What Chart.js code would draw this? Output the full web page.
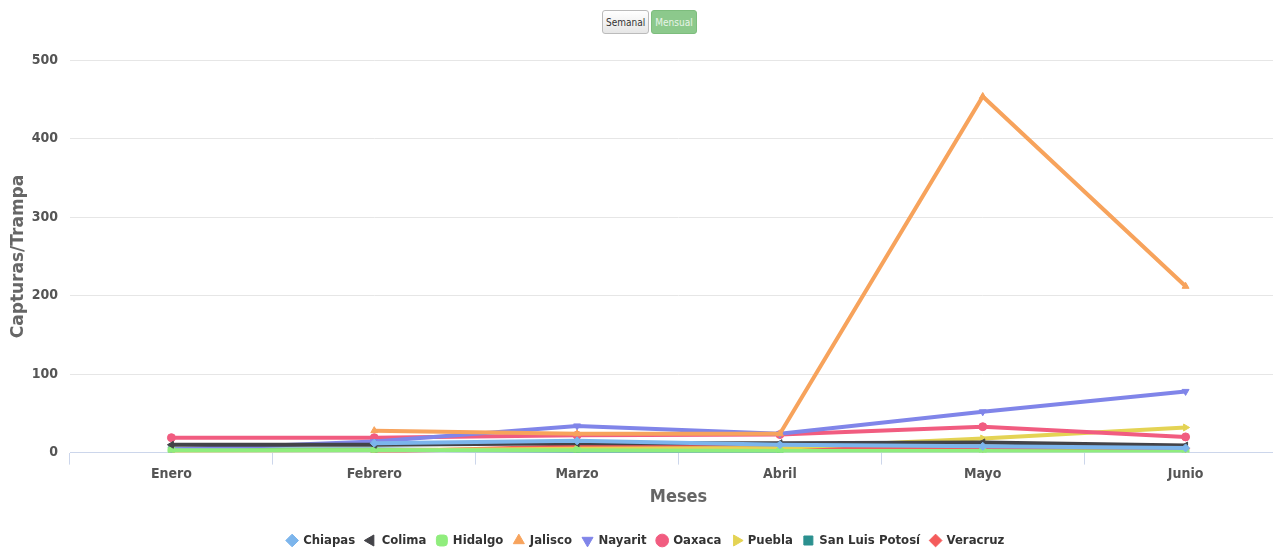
<!DOCTYPE html>
<html>
<head>
<meta charset="utf-8">
<script src="https://cdn.jsdelivr.net/npm/chart.js@4"></script>
<style>
  body { margin: 0; background: #fff; overflow: hidden; font-family: "DejaVu Sans Condensed", sans-serif; }
  .botones { position: absolute; top: 10px; left: 602px; }
  .botones button { font-family: inherit; font-size: 10px; height: 24px; padding: 0 3px; border-radius: 3px; margin-right: 2px; }
  .semanal { background: linear-gradient(#fff, #e6e6e6); border: 1px solid #bbb; color: #333; }
  .mensual { background: #8cc98c; border: 1px solid #7dbd7d; color: #e8f4e8; }
  .contenedor { position: absolute; top: 40px; left: 0; width: 1292px; height: 517px; }
</style>
</head>
<body>
<div class="botones"><button class="semanal">Semanal</button><button class="mensual">Mensual</button></div>
<div class="contenedor"><canvas id="grafica"></canvas></div>
<script>
// Meses y valores de capturas por trampa
const meses = ['Enero', 'Febrero', 'Marzo', 'Abril', 'Mayo', 'Junio'];

const chiapas   = [null, 12, 15, 10, 8, 6];
const colima    = [10, 10, 12, 12, 13, 9];
const hidalgo   = [3, 3, 3, 2, 2, 1];
const jalisco   = [null, 28, 24, 24, 454, 212];
const nayarit   = [4, 14, 34, 24, 52, 78];
const oaxaca    = [19, 19, 22, 23, 33, 20];
const puebla    = [2, 3, 5, 6, 18, 32];
const sanLuis   = [4, 4, 2, 1, null, null];
const veracruz  = [null, 1, 8, 7, 5, 5];

const ticksY = [0, 100, 200, 300, 400, 500];

// Cada estado con su color y marcador
const estados = [
  { nombre: 'Chiapas', datos: chiapas, color: '#7cb5ec', marca: 'rectRot', giro: 0 },
  { nombre: 'Colima', datos: colima, color: '#434348', marca: 'triangle', giro: 270 },
  { nombre: 'Hidalgo', datos: hidalgo, color: '#90ed7d', marca: 'rectRounded', giro: 0 },
  { nombre: 'Jalisco', datos: jalisco, color: '#f7a35c', marca: 'triangle', giro: 0 },
  { nombre: 'Nayarit', datos: nayarit, color: '#8085e9', marca: 'triangle', giro: 180 },
  { nombre: 'Oaxaca', datos: oaxaca, color: '#f15c80', marca: 'circle', giro: 0 },
  { nombre: 'Puebla', datos: puebla, color: '#e4d354', marca: 'triangle', giro: 90 },
  { nombre: 'San Luis Potosí', datos: sanLuis, color: '#2b908f', marca: 'rect', giro: 0 },
  { nombre: 'Veracruz', datos: veracruz, color: '#f45b5b', marca: 'rectRot', giro: 0 }
];

const fuente = '"DejaVu Sans Condensed", sans-serif';

new Chart(document.getElementById('grafica').getContext('2d'), {
  type: 'line',
  data: {
    labels: meses,
    datasets: estados.map(e => ({
      label: e.nombre,
      data: e.datos,
      borderColor: e.color,
      backgroundColor: e.color,
      borderWidth: 4,
      pointStyle: e.marca,
      pointRotation: e.giro,
      pointRadius: 4,
      pointBorderWidth: 1,
      tension: 0,
      spanGaps: false
    }))
  },
  options: {
    responsive: true,
    maintainAspectRatio: false,
    animation: false,
    layout: { padding: { top: 7, right: 0, bottom: 0, left: 0 } },
    scales: {
      x: {
        offset: true,
        grid: { display: true, drawOnChartArea: false, offset: true, color: '#ccd6eb', tickLength: 12 },
        border: { color: '#ccd6eb' },
        ticks: { color: '#555', font: { family: fuente, size: 14, weight: 'bold' }, padding: 1 },
        title: { display: true, text: 'Meses', color: '#666', font: { family: fuente, size: 18, weight: 'bold' }, padding: { top: 3, bottom: 15 } }
      },
      y: {
        min: 0,
        max: 500,
        afterBuildTicks: s => { s.ticks = ticksY.map(v => ({ value: v })); },
        afterFit: s => { s.width = 70; },
        grid: { color: '#e6e6e6', drawTicks: false },
        border: { display: false },
        ticks: { color: '#555', font: { family: fuente, size: 14, weight: 'bold' }, padding: 12 },
        title: { display: true, text: 'Capturas/Trampa', color: '#666', font: { family: '"DejaVu Sans", sans-serif', size: 17, weight: 'bold' }, padding: { top: 8, bottom: 0 } }
      }
    },
    plugins: {
      legend: {
        position: 'bottom',
        labels: {
          usePointStyle: true,
          boxWidth: 9,
          boxHeight: 9,
          padding: 11,
          color: '#333',
          font: { family: fuente, size: 13, weight: 'bold' }
        }
      },
      tooltip: { enabled: false }
    }
  }
});
</script>
</body>
</html>
